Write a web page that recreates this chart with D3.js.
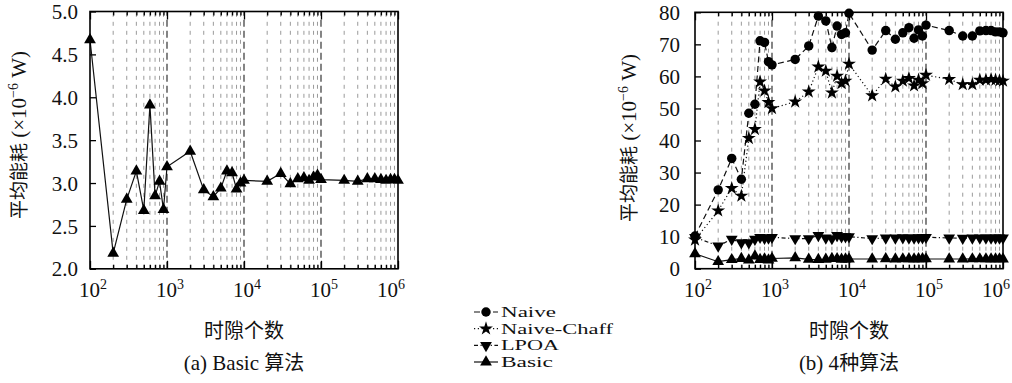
<!DOCTYPE html>
<html><head><meta charset="utf-8">
<script src="https://cdn.jsdelivr.net/npm/d3@7"></script>
<style>body{margin:0;background:#fff}svg{display:block}
text{font-family:"Liberation Serif","Times New Roman",serif;fill:#111}
.cjk{font-family:"Noto Sans CJK SC",sans-serif}
</style>
</head><body>
<svg id="c" width="1012" height="383"></svg>
<script>
// ---------- data ----------
const slots = [100,200,300,400,500,600,700,800,900,
  1000,2000,3000,4000,5000,6000,7000,8000,9000,
  10000,20000,30000,40000,50000,60000,70000,80000,90000,
  100000,200000,300000,400000,500000,600000,700000,800000,900000,1000000];
const basic = [4.67,2.18,2.81,3.14,2.68,3.91,2.85,3.02,2.69,
  3.19,3.37,2.92,2.84,2.94,3.14,3.12,2.93,3.00,
  3.03,3.02,3.11,2.99,3.05,3.06,3.03,3.07,3.09,
  3.04,3.03,3.02,3.05,3.05,3.04,3.03,3.04,3.04,3.03];
const naive = [10.2,24.6,34.4,27.9,48.5,51.3,71.1,70.6,64.6,
  63.6,65.3,69.5,78.8,77.3,69.0,75.7,73.1,73.6,
  79.7,68.2,74.3,71.6,73.6,75.2,71.9,74.5,72.6,
  76.0,74.3,72.6,72.6,74.2,74.3,74.3,73.9,73.9,73.6];
const naiveChaff = [9.0,18.1,25.1,22.7,40.7,43.5,58.3,55.5,51.9,
  50.0,52.1,55.2,63.0,61.7,54.9,60.1,57.8,58.6,
  63.9,54.0,59.2,56.8,58.6,59.4,57.1,58.9,57.8,
  60.4,59.1,57.5,57.5,58.9,58.9,59.1,58.9,58.7,58.6];
const lpoa = [9.8,7.1,9.2,8.1,8.1,9.2,9.8,9.5,9.6,
  9.8,9.4,9.4,10.4,9.6,9.4,10.4,10.0,10.0,
  10.0,9.4,9.6,9.6,9.7,9.6,9.6,9.7,9.7,
  9.8,9.6,9.5,9.6,9.6,9.6,9.6,9.6,9.6,9.6];
const xTickExp = [2,3,4,5,6];
const yTicksA = [2.0,2.5,3.0,3.5,4.0,4.5,5.0];
const yTicksB = [0,10,20,30,40,50,60,70,80];
const seriesNames = ["Naive","Naive-Chaff","LPOA","Basic"];
const legendWidths = [55,112,58,52];
const xTitle = "时隙个数";
const yTitleCjk = "平均能耗";
const yTitleMain = " (×10";
const yTitleExp = "−6";
const yTitleTail = " W)";
const captionA = ["(a) Basic ", "算法"];
const captionB = ["(b) 4", "种算法"];

// ---------- styles ----------
const styles = {
  "Naive":       {dash:"6,3.5",      sym:d3.symbolCircle,   size:70, rot:0},
  "Naive-Chaff": {dash:"1.2,2.6",    sym:d3.symbolStar,     size:60, rot:0},
  "LPOA":        {dash:"4,2.5,1.2,2.5", sym:d3.symbolTriangle, size:60, rot:180},
  "Basic":       {dash:null,         sym:d3.symbolTriangle, size:60, rot:0}
};

const svg = d3.select("#c");

function panel(cfg){
  const x = d3.scaleLog().domain([1e2,1e6]).range([cfg.x0,cfg.x1]);
  const y = d3.scaleLinear().domain(cfg.yDom).range([cfg.y0,cfg.y1]);
  const g = svg.append("g");
  const allTicks = x.ticks();
  const isMajor = v => Math.abs(Math.log10(v) - Math.round(Math.log10(v))) < 1e-9;

  g.selectAll("line.grid").data(allTicks.filter(v=>v>1e2 && v<1e6)).enter()
    .append("line")
    .attr("x1",d=>x(d)).attr("x2",d=>x(d))
    .attr("y1",cfg.y0).attr("y2",cfg.y1)
    .attr("stroke",d=>isMajor(d)?"#222":"#9a9a9a")
    .attr("stroke-width",d=>isMajor(d)?1.1:1)
    .attr("stroke-dasharray",d=>isMajor(d)?"7,4":"4,5");

  const minor = allTicks.filter(v=>!isMajor(v));
  const major = allTicks.filter(isMajor);
  [[d3.axisBottom, cfg.y0],[d3.axisTop, cfg.y1]].forEach(([ax,yy])=>{
    [[minor,-4],[major,-8]].forEach(([vals,sz])=>{
      const a = g.append("g").attr("transform",`translate(0,${yy})`)
        .call(ax(x).tickValues(vals).tickSize(sz).tickFormat(""));
      a.select(".domain").remove();
      a.selectAll("line").attr("stroke","#000").attr("stroke-width",1.3);
    });
  });

  const ya = g.append("g").attr("transform",`translate(${cfg.x0},0)`)
    .call(d3.axisLeft(y).tickValues(cfg.yTicks).tickSize(-6).tickPadding(cfg.yPad)
      .tickFormat(cfg.yFmt));
  ya.select(".domain").remove();
  ya.selectAll("line").attr("stroke","#000").attr("stroke-width",1.3);
  ya.selectAll("text").attr("font-family",null).attr("font-size",21).attr("fill","#111")
    .attr("dy","0.34em");

  xTickExp.forEach(k=>{
    const t = g.append("text").attr("x",x(Math.pow(10,k))+(k===6?-7:3)).attr("y",297)
      .attr("text-anchor","middle").attr("font-size",21);
    t.append("tspan").text("10");
    t.append("tspan").attr("dy",-8).attr("font-size",14).text(String(k));
  });

  cfg.series.forEach(s=>{
    const st = styles[s.name];
    const pts = slots.map((v,i)=>[x(v), y(s.values[i])]);
    g.append("path").attr("d",d3.line()(pts)).attr("fill","none")
      .attr("stroke","#111").attr("stroke-width",1.2)
      .attr("stroke-dasharray",st.dash);
    g.selectAll(null).data(pts).enter().append("path")
      .attr("d",d3.symbol().type(st.sym).size(st.size)())
      .attr("transform",d=>`translate(${d[0]},${d[1]}) rotate(${st.rot})`)
      .attr("fill","#000");
  });

  g.append("rect").attr("x",cfg.x0).attr("y",cfg.y1)
    .attr("width",cfg.x1-cfg.x0).attr("height",cfg.y0-cfg.y1)
    .attr("fill","none").attr("stroke","#000").attr("stroke-width",1.6);

  const cx = (cfg.x0+cfg.x1)/2;
  g.append("text").attr("class","cjk").attr("x",cx).attr("y",338).attr("text-anchor","middle")
    .attr("font-size",20).text(xTitle);
  const cap = g.append("text").attr("x",cx).attr("y",370).attr("text-anchor","middle")
    .attr("font-size",21);
  cap.append("tspan").text(cfg.caption[0]);
  cap.append("tspan").attr("class","cjk").attr("font-size",20).text(cfg.caption[1]);
  const yt = g.append("text")
    .attr("transform",`translate(${cfg.ylx},${cfg.yly}) rotate(-90)`)
    .attr("text-anchor","middle").attr("font-size",21);
  yt.append("tspan").attr("class","cjk").attr("font-size",19).text(yTitleCjk);
  yt.append("tspan").text(yTitleMain);
  yt.append("tspan").attr("dy",-8).attr("font-size",14).text(yTitleExp);
  yt.append("tspan").attr("dy",8).text(yTitleTail);
}

panel({x0:90,x1:398,y0:268.8,y1:11.5,yDom:[2,5],yTicks:yTicksA,yFmt:d3.format(".1f"),yPad:12,
  series:[{name:"Basic",values:basic}], caption:captionA, ylx:26, yly:135});
panel({x0:695,x1:1003,y0:268.7,y1:12.3,yDom:[0,80],yTicks:yTicksB,yFmt:d3.format("d"),yPad:15,
  series:[{name:"Naive",values:naive},{name:"Naive-Chaff",values:naiveChaff},
          {name:"LPOA",values:lpoa},{name:"Basic",values:basic}],
  caption:captionB, ylx:636, yly:138});

const lg = svg.append("g");
const legendY = d3.scalePoint().domain(seriesNames).range([312,362]);
seriesNames.forEach((n,i)=>{
  const st = styles[n], yy = legendY(n);
  lg.append("line").attr("x1",474).attr("x2",498).attr("y1",yy).attr("y2",yy)
    .attr("stroke","#111").attr("stroke-width",1.2).attr("stroke-dasharray",st.dash);
  lg.append("path").attr("d",d3.symbol().type(st.sym).size(st.size)())
    .attr("transform",`translate(486,${yy}) rotate(${st.rot})`).attr("fill","#000");
  lg.append("text").attr("x",501).attr("y",yy+5).attr("font-size",14.5)
    .attr("textLength",legendWidths[i]).attr("lengthAdjust","spacingAndGlyphs").text(n);
});
</script>
</body></html>
